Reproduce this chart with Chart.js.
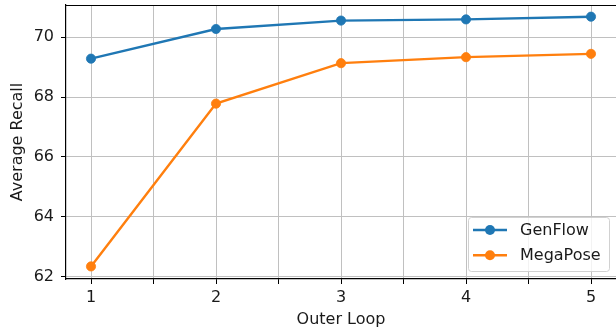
<!DOCTYPE html>
<html>
<head>
<meta charset="utf-8">
<script src="https://cdn.jsdelivr.net/npm/chart.js@4/dist/chart.umd.min.js"></script>
<style>
  html, body { margin: 0; padding: 0; background: #fff; }
  #wrap { width: 616px; height: 330px; }
</style>
</head>
<body>
<div id="wrap"><canvas id="c" width="616" height="330"></canvas></div>
<script>
// ---- data ----
const outerLoop = [1, 2, 3, 4, 5];
const genflow   = [69.28, 70.27, 70.55, 70.59, 70.68];
const megapose  = [62.35, 67.78, 69.13, 69.33, 69.44];
const xTicks = [1, 1.5, 2, 2.5, 3, 3.5, 4, 4.5, 5];
const yTicks = [62, 64, 66, 68, 70];
const seriesNames = ['GenFlow', 'MegaPose'];
const colors = ['#1f77b4', '#ff7f0e'];

const FONT = "'DejaVu Sans', sans-serif";

function noPad(s) { s.paddingTop = 0; s.paddingBottom = 0; s.paddingLeft = 0; s.paddingRight = 0; }

const frame = {
  id: 'frame',
  afterDraw(chart) {
    const {ctx, chartArea: a} = chart;
    ctx.save();
    ctx.strokeStyle = '#000';
    ctx.lineWidth = 1.2;
    ctx.beginPath();
    ctx.moveTo(a.left, a.top + 0.5);
    ctx.lineTo(a.right + 2, a.top + 0.5);
    ctx.stroke();
    ctx.restore();
  }
};

const legendBox = {
  id: 'legendBox',
  afterDraw(chart) {
    const {ctx} = chart;
    const ds = chart.data.datasets;
    const x0 = 468, y0 = 217, w = 141, h = 54, r = 3;
    ctx.save();
    ctx.fillStyle = 'rgba(255,255,255,0.8)';
    ctx.strokeStyle = 'rgba(204,204,204,0.9)';
    ctx.lineWidth = 1;
    ctx.beginPath();
    ctx.roundRect(x0 + 0.5, y0 + 0.5, w, h, r);
    ctx.fill();
    ctx.stroke();
    ds.forEach((d, i) => {
      const cy = 230 + i * 25.3;
      ctx.strokeStyle = d.borderColor;
      ctx.lineWidth = 2.4;
      ctx.beginPath();
      ctx.moveTo(473, cy);
      ctx.lineTo(507, cy);
      ctx.stroke();
      ctx.fillStyle = d.borderColor;
      ctx.beginPath();
      ctx.arc(490, cy, 5, 0, Math.PI * 2);
      ctx.fill();
      ctx.fillStyle = '#1a1a1a';
      ctx.font = '16px ' + FONT;
      ctx.textBaseline = 'middle';
      ctx.textAlign = 'left';
      ctx.fillText(d.label, 520, cy + 1);
    });
    ctx.restore();
  }
};

const datasets = [genflow, megapose].map((vals, i) => ({
  label: seriesNames[i],
  data: outerLoop.map((x, j) => ({x: x, y: vals[j]})),
  borderColor: colors[i],
  backgroundColor: colors[i],
  pointBackgroundColor: colors[i],
  pointBorderColor: colors[i],
  borderWidth: 2.4,
  pointRadius: 4.6,
  pointBorderWidth: 0.8,
  pointHoverRadius: 4.6,
  tension: 0,
  fill: false
}));

new Chart(document.getElementById('c'), {
  type: 'line',
  data: { datasets },
  plugins: [frame, legendBox],
  options: {
    responsive: false,
    animation: false,
    devicePixelRatio: 1,
    layout: { autoPadding: false, padding: { top: 5, left: 0, right: 0, bottom: 0 } },
    plugins: { legend: { display: false }, tooltip: { enabled: false } },
    scales: {
      x: {
        type: 'linear',
        min: 0.8, max: 5.2,
        afterFit(s) { s.height = 51; noPad(s); },
        afterBuildTicks(s) { s.ticks = xTicks.map(v => ({value: v})); },
        grid: { color: '#c0c0c0', lineWidth: 1, tickColor: '#000', tickLength: 5, drawTicks: true },
        border: { display: true, color: '#000', width: 1.2 },
        ticks: {
          autoSkip: false, maxRotation: 0,
          color: '#1a1a1a', font: { family: FONT, size: 16 }, padding: 4,
          callback: v => Number.isInteger(v) ? String(v) : ''
        },
        title: { display: true, text: 'Outer Loop', color: '#1a1a1a',
                 font: { family: FONT, size: 16 }, padding: { top: 0, bottom: 0.5 } }
      },
      y: {
        min: 61.93, max: 71.07,
        afterFit(s) { s.width = 66; noPad(s); },
        afterBuildTicks(s) { s.ticks = yTicks.map(v => ({value: v})); },
        grid: { color: '#c0c0c0', lineWidth: 1, tickColor: '#000', tickLength: 5, drawTicks: true },
        border: { display: true, color: '#000', width: 1.2 },
        ticks: {
          color: '#1a1a1a', font: { family: FONT, size: 16 }, padding: 7,
          callback: v => String(v)
        },
        title: { display: true, text: 'Average Recall', color: '#1a1a1a',
                 font: { family: FONT, size: 16 }, padding: { top: 8, bottom: 0 } }
      }
    }
  }
});
</script>
</body>
</html>
